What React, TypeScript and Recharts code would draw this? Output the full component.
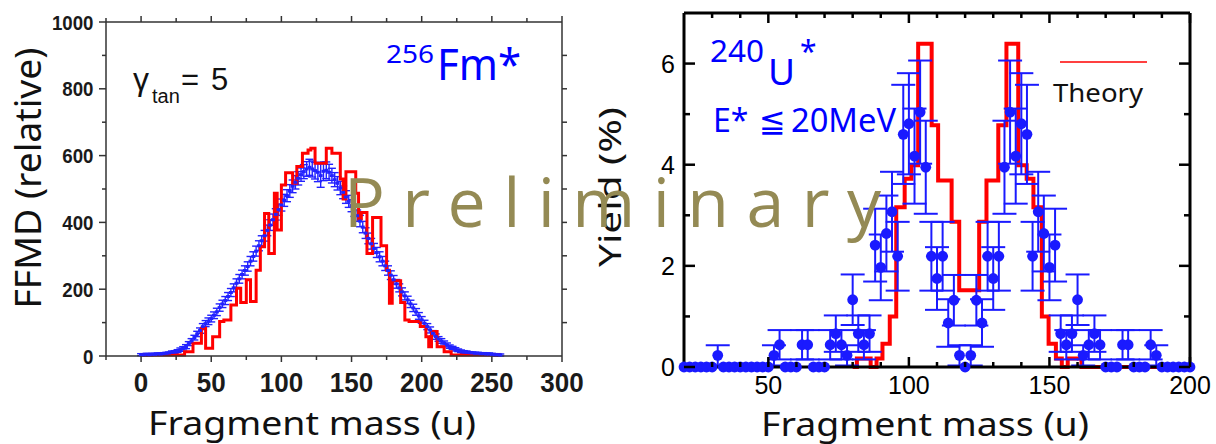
import React from 'react';
import { ComposedChart, Line, Scatter, XAxis, YAxis, ErrorBar } from 'recharts';

// ---------------- Left panel: 256Fm* (FFMD) ----------------
const fmMass = [
  0, 2, 4, 6, 8, 10, 12, 14, 16, 18,
  20, 22, 24, 26, 28, 30, 32, 34, 36, 38,
  40, 42, 44, 46, 48, 50, 52, 54, 56, 58,
  60, 62, 64, 66, 68, 70, 72, 74, 76, 78,
  80, 82, 84, 86, 88, 90, 92, 94, 96, 98,
  100, 102, 104, 106, 108, 110, 112, 114, 116, 118,
  120, 122, 124, 126, 128, 130, 132, 134, 136, 138,
  140, 142, 144, 146, 148, 150, 152, 154, 156, 158,
  160, 162, 164, 166, 168, 170, 172, 174, 176, 178,
  180, 182, 184, 186, 188, 190, 192, 194, 196, 198,
  200, 202, 204, 206, 208, 210, 212, 214, 216, 218,
  220, 222, 224, 226, 228, 230, 232, 234, 236, 238,
  240, 242, 244, 246, 248, 250, 252, 254, 256,
];
const fmYield = [
  4, 4, 5, 4, 5, 5, 6, 6, 7, 8,
  9, 11, 12, 15, 19, 23, 28, 37, 45, 55,
  66, 76, 88, 97, 104, 112, 122, 132, 145, 156,
  166, 178, 190, 204, 218, 231, 244, 256, 268, 284,
  298, 314, 330, 345, 360, 376, 392, 408, 424, 438,
  452, 466, 480, 494, 508, 520, 532, 543, 552, 560,
  565, 560, 555, 550, 540, 553, 556, 550, 540, 528,
  517, 503, 490, 476, 463, 450, 436, 420, 404, 386,
  368, 352, 336, 322, 310, 297, 284, 270, 256, 242,
  228, 216, 204, 192, 180, 168, 156, 144, 132, 120,
  108, 98, 88, 78, 68, 58, 51, 45, 39, 33,
  28, 24, 20, 17, 14, 12, 11, 10, 9, 8,
  8, 7, 7, 6, 6, 5, 4, 4, 3,
];
const fmError = [
  3, 3, 3, 3, 3, 3, 3, 3, 3, 3,
  3, 4, 4, 4, 5, 5, 6, 6, 7, 7,
  8, 8, 9, 9, 10, 10, 10, 11, 11, 11,
  12, 12, 12, 12, 13, 13, 13, 14, 14, 14,
  14, 15, 15, 15, 16, 16, 16, 17, 17, 17,
  18, 18, 18, 19, 19, 20, 20, 20, 21, 22,
  24, 24, 25, 28, 35, 28, 25, 24, 22, 21,
  20, 20, 19, 19, 18, 18, 18, 17, 17, 17,
  16, 16, 16, 15, 15, 15, 14, 14, 14, 13,
  13, 13, 12, 12, 12, 11, 11, 11, 10, 10,
  10, 9, 9, 9, 8, 8, 7, 7, 6, 6,
  5, 5, 5, 4, 4, 4, 4, 3, 3, 3,
  3, 3, 3, 3, 3, 3, 3, 3, 3,
];
const fmTheoryEdges = [
  0, 31, 37, 43, 46, 51, 56, 59, 64, 68,
  71, 75, 78, 82, 85, 88, 91, 95, 97, 100,
  103, 108, 111, 115, 119, 121, 124, 132, 136, 142,
  144, 146, 153, 155, 157, 161, 165, 171, 175, 177,
  179, 185, 188, 191, 199, 203, 205, 207, 211, 216,
  221, 256,
];
const fmTheoryYield = [
  3, 13, 38, 83, 23, 58, 103, 108, 153, 203,
  160, 228, 163, 257, 327, 427, 307, 487, 377, 512,
  549, 517, 567, 607, 617, 622, 577, 622, 607, 530,
  470, 552, 487, 410, 430, 307, 415, 330, 257, 158,
  225, 160, 108, 103, 88, 58, 28, 73, 28, 13,
  3, 3,
];
const fmXMajorTicks = [0, 50, 100, 150, 200, 250, 300];
const fmXMinorTicks = [-25, 25, 75, 125, 175, 225, 275];
const fmYMajorTicks = [0, 200, 400, 600, 800, 1000];
const fmYMinorTicks = [100, 300, 500, 700, 900];
const fmYRightTicks = [100, 200, 300, 400, 500, 600, 700, 800, 900];

// ---------------- Right panel: 240U* ----------------
const uMass = [
  20, 22, 24, 26, 28, 30, 32, 34, 36, 38,
  40, 42, 44, 46, 48, 50, 52, 54, 56, 58,
  60, 62, 64, 66, 68, 70, 72, 74, 76, 78,
  80, 82, 84, 86, 88, 90, 92, 94, 96, 98,
  100, 102, 104, 106, 108, 110, 112, 114, 116, 118,
  120, 122, 124, 126, 128, 130, 132, 134, 136, 138,
  140, 142, 144, 146, 148, 150, 152, 154, 156, 158,
  160, 162, 164, 166, 168, 170, 172, 174, 176, 178,
  180, 182, 184, 186, 188, 190, 192, 194, 196, 198,
  200,
];
const uYield = [
  0, 0, 0, 0, 0, 0, 0.23, 0, 0, 0,
  0, 0, 0, 0, 0, 0, 0.23, 0.44, 0, 0,
  0, 0.44, 0.44, 0, 0, 0, 0.44, 0.66, 0.44, 0.23,
  1.33, 0.66, 0.44, 0.66, 2.41, 1.97, 2.64, 3.07, 2.19, 4.6,
  4.81, 4.17, 5.04, 3.95, 2.19, 1.75, 2.19, 0.87, 1.32, 0.23,
  0, 0.23, 1.32, 0.87, 2.19, 1.75, 2.19, 3.95, 5.04, 4.17,
  4.81, 4.6, 2.19, 3.07, 2.64, 1.97, 2.41, 0.66, 0.44, 0.66,
  1.33, 0.23, 0.44, 0.66, 0.44, 0, 0, 0, 0.44, 0.44,
  0, 0, 0, 0.44, 0.23, 0, 0, 0, 0, 0,
  0,
];
const uError = [
  0, 0, 0, 0, 0, 0, 0.2, 0, 0, 0,
  0, 0, 0, 0, 0, 0, 0.2, 0.29, 0, 0,
  0, 0.29, 0.29, 0, 0, 0, 0.29, 0.36, 0.29, 0.2,
  0.5, 0.36, 0.29, 0.36, 0.72, 0.65, 0.75, 0.79, 0.68, 0.98,
  1.0, 0.94, 1.02, 0.92, 0.68, 0.62, 0.68, 0.47, 0.5, 0.2,
  0, 0.2, 0.5, 0.47, 0.68, 0.62, 0.68, 0.92, 1.02, 0.94,
  1.0, 0.98, 0.68, 0.79, 0.75, 0.65, 0.72, 0.36, 0.29, 0.36,
  0.5, 0.2, 0.29, 0.36, 0.29, 0, 0, 0, 0.29, 0.29,
  0, 0, 0, 0.29, 0.2, 0, 0, 0, 0, 0,
  0,
];
const uTheoryEdges = [
  80, 81.5, 86.4, 88.5, 90.6, 93.2, 95.5, 98.5, 100.9, 103.3,
  108.1, 110.4, 115.2, 117.9, 125, 127.6, 131.8, 134.7, 138.9, 141.9,
  144.3, 147.3, 149.7, 152.3, 154.4, 156.5, 161.4, 200,
];
const uTheoryYield = [
  0, 0.17, 0, 0.17, 0.46, 1.0, 3.16, 3.72, 3.99, 6.39,
  4.78, 3.69, 2.87, 1.52, 2.87, 3.69, 4.78, 6.39, 3.99, 3.72,
  3.16, 1.0, 0.46, 0.17, 0, 0.17, 0, 0,
];
const uXMajorTicks = [50, 100, 150, 200];
const uXMinorTicks = [30, 40, 60, 70, 80, 90, 110, 120, 130, 140, 160, 170, 180, 190];
const uYMajorTicks = [0, 2, 4, 6];
const uYMinorTicks = [1, 3, 5];

// ---------------- tables built from the arrays ----------------
const fmPoints = fmMass.map((x, i) => ({ x, y: fmYield[i], err: fmError[i] }));
const fmTheory = fmTheoryEdges.map((x, i) => ({ x, y: fmTheoryYield[i] }));
const uPoints = uMass.map((x, i) => ({ x, y: uYield[i], err: uError[i] }));
const uTheory = uTheoryEdges.map((x, i) => ({ x, y: uTheoryYield[i] }));

const num = (a: number, b: number) => a - b;
const fmXAll = [...fmXMajorTicks, ...fmXMinorTicks].sort(num);
const fmYAll = [...fmYMajorTicks, ...fmYMinorTicks].sort(num);
const uXAll = [...uXMajorTicks, ...uXMinorTicks].sort(num);
const uYAll = [...uYMajorTicks, ...uYMinorTicks].sort(num);

const SANS = "'Noto Sans', 'Open Sans', 'DejaVu Sans', sans-serif";
const ARIAL = "'Liberation Sans', Arial, sans-serif";
const BLUE_L = '#2222ff';
const BLUE_R = '#1a1aff';
const RED = '#ff0000';

type Side = 'bottom' | 'top' | 'left' | 'right';
interface TickCfg {
  side: Side;
  majors: number[];
  majorLen: number;
  minorLen: number;
  inward: boolean;
  stroke: string;
  strokeWidth: number;
  label?: (x: number, y: number, v: number) => React.ReactNode;
}

// Custom tick: draws the tick mark (major/minor length) and the optional label.
function makeTick(cfg: TickCfg) {
  return function TickMark(props: any) {
    const { x, y, payload } = props;
    const v = payload.value as number;
    const isMajor = cfg.majors.includes(v);
    const len = isMajor ? cfg.majorLen : cfg.minorLen;
    let x2 = x, y2 = y;
    const outSign = cfg.inward ? -1 : 1;
    if (cfg.side === 'bottom') y2 = y + outSign * len;
    if (cfg.side === 'top') y2 = y - outSign * len;
    if (cfg.side === 'left') x2 = x - outSign * len;
    if (cfg.side === 'right') x2 = x + outSign * len;
    return (
      <g>
        <line x1={x} y1={y} x2={x2} y2={y2} stroke={cfg.stroke} strokeWidth={cfg.strokeWidth} />
        {isMajor && cfg.label ? cfg.label(x, y, v) : null}
      </g>
    );
  };
}

const fmLabelX = (x: number, y: number, v: number) => (
  <text transform={`translate(${x},${y + 36}) scale(0.93,1)`} textAnchor="middle" fontSize={28}
    fontWeight="bold" fontFamily={ARIAL} fill="#1a1a1a">{v}</text>
);
const fmLabelY = (x: number, y: number, v: number) => (
  <text transform={`translate(${x - 12.5},${y + 7.5}) scale(0.89,1)`} textAnchor="end" fontSize={21}
    fontWeight="bold" fontFamily={ARIAL} fill="#1a1a1a">{v}</text>
);
const uLabelX = (x: number, y: number, v: number) => (
  <text x={x} y={y + 26.5} textAnchor="middle" fontSize={25} fontFamily={ARIAL} fill="#000">{v}</text>
);
const uLabelY = (x: number, y: number, v: number) => (
  <text x={x - 9} y={y + 9} textAnchor="end" fontSize={25} fontFamily={ARIAL} fill="#000">{v}</text>
);

const FM_STROKE = '#333';
const fmBottomTick = makeTick({ side: 'bottom', majors: fmXMajorTicks, majorLen: 6, minorLen: 4, inward: false, stroke: FM_STROKE, strokeWidth: 1.5, label: fmLabelX });
const fmTopTick = makeTick({ side: 'top', majors: fmXMajorTicks, majorLen: 6, minorLen: 4, inward: false, stroke: FM_STROKE, strokeWidth: 1.5 });
const fmLeftTick = makeTick({ side: 'left', majors: fmYMajorTicks, majorLen: 7, minorLen: 4, inward: false, stroke: FM_STROKE, strokeWidth: 1.5, label: fmLabelY });
const fmRightTick = makeTick({ side: 'right', majors: fmYRightTicks, majorLen: 5, minorLen: 5, inward: false, stroke: FM_STROKE, strokeWidth: 1.5 });

const uBottomTick = makeTick({ side: 'bottom', majors: uXMajorTicks, majorLen: 10, minorLen: 5, inward: true, stroke: '#000', strokeWidth: 2.5, label: uLabelX });
const uTopTick = makeTick({ side: 'top', majors: uXMajorTicks, majorLen: 10, minorLen: 5, inward: true, stroke: '#000', strokeWidth: 2.5 });
const uLeftTick = makeTick({ side: 'left', majors: uYMajorTicks, majorLen: 11, minorLen: 6, inward: true, stroke: '#000', strokeWidth: 2.5, label: uLabelY });
const uRightTick = makeTick({ side: 'right', majors: uYMajorTicks, majorLen: 11, minorLen: 6, inward: true, stroke: '#000', strokeWidth: 2.5 });

const fmFrame = { stroke: FM_STROKE, strokeWidth: 1.5 };
const uFrame = { stroke: '#000', strokeWidth: 3 };

function LeftChart() {
  const xd: [number, number] = [-25, 300];
  const yd: [number, number] = [0, 1000];
  return (
    <ComposedChart width={600} height={444} margin={{ top: 21, right: 37, bottom: 0, left: 0 }}>
      <XAxis xAxisId="xb" orientation="bottom" type="number" dataKey="x" domain={xd} height={88}
        ticks={fmXAll} interval={0} tickSize={0} tickMargin={0} tickLine={false} tick={fmBottomTick} axisLine={fmFrame} />
      <XAxis xAxisId="xt" orientation="top" type="number" dataKey="x" domain={xd} allowDataOverflow height={1}
        ticks={fmXAll} interval={0} tickSize={0} tickMargin={0} tickLine={false} tick={fmTopTick} axisLine={fmFrame} />
      <YAxis yAxisId="yl" orientation="left" type="number" dataKey="y" domain={yd} width={106}
        ticks={fmYAll} interval={0} tickSize={0} tickMargin={0} tickLine={false} tick={fmLeftTick} axisLine={fmFrame} />
      <YAxis yAxisId="yr" orientation="right" type="number" dataKey="y" domain={yd} allowDataOverflow width={1}
        ticks={fmYRightTicks} interval={0} tickSize={0} tickMargin={0} tickLine={false} tick={fmRightTick} axisLine={fmFrame} />

      <Scatter xAxisId="xb" yAxisId="yl" data={fmPoints} dataKey="y" isAnimationActive={false}
        shape={(p: any) => <rect x={p.cx - 2} y={p.cy - 1.5} width={4} height={3} fill={BLUE_L} />}>
        <ErrorBar dataKey="err" direction="y" width={4} strokeWidth={1.4} stroke={BLUE_L} />
      </Scatter>
      <Line xAxisId="xb" yAxisId="yl" data={fmTheory} dataKey="y" type="stepAfter" stroke={RED}
        strokeWidth={3} dot={false} activeDot={false} isAnimationActive={false} />
    </ComposedChart>
  );
}

function RightChart() {
  const xd: [number, number] = [20, 200];
  const yd: [number, number] = [0, 7];
  return (
    <ComposedChart width={616} height={444} margin={{ top: 12, right: 25, bottom: 0, left: 0 }}>
      <XAxis xAxisId="xb" orientation="bottom" type="number" dataKey="x" domain={xd} height={77}
        ticks={uXAll} interval={0} tickSize={0} tickMargin={0} tickLine={false} tick={uBottomTick} axisLine={uFrame} />
      <XAxis xAxisId="xt" orientation="top" type="number" dataKey="x" domain={xd} allowDataOverflow height={1}
        ticks={uXAll} interval={0} tickSize={0} tickMargin={0} tickLine={false} tick={uTopTick} axisLine={uFrame} />
      <YAxis yAxisId="yl" orientation="left" type="number" dataKey="y" domain={yd} width={84}
        ticks={uYAll} interval={0} tickSize={0} tickMargin={0} tickLine={false} tick={uLeftTick} axisLine={uFrame} />
      <YAxis yAxisId="yr" orientation="right" type="number" dataKey="y" domain={yd} allowDataOverflow width={1}
        ticks={uYAll} interval={0} tickSize={0} tickMargin={0} tickLine={false} tick={uRightTick} axisLine={uFrame} />

      <Line xAxisId="xb" yAxisId="yl" data={uTheory} dataKey="y" type="stepAfter" stroke={RED}
        strokeWidth={4} dot={false} activeDot={false} isAnimationActive={false} />
      <Scatter xAxisId="xb" yAxisId="yl" data={uPoints} dataKey="y" isAnimationActive={false}
        shape={(p: any) => <circle cx={p.cx} cy={p.cy} r={5.4} fill={BLUE_R} />}>
        <ErrorBar dataKey="err" direction="y" width={12} strokeWidth={2} stroke={BLUE_R} />
      </Scatter>
    </ComposedChart>
  );
}

export default function App() {
  return (
    <div style={{ position: 'absolute', left: 0, top: 0, width: 1216, height: 444, background: '#fff', overflow: 'hidden' }}>
      <div style={{ position: 'absolute', left: 0, top: 0 }}>
        <LeftChart />
      </div>
      <div style={{ position: 'absolute', left: 600, top: 0 }}>
        <RightChart />
      </div>
      <svg width={1216} height={444} style={{ position: 'absolute', left: 0, top: 0, pointerEvents: 'none' }}>
        {/* axis titles */}
        <text transform="translate(41,178) rotate(-90)" textAnchor="middle" fontSize={36} fontFamily={SANS}
          textLength={261} lengthAdjust="spacingAndGlyphs" fill="#111">FFMD (relative)</text>
        <text x={148} y={435} fontSize={32} fontFamily={SANS} textLength={328} lengthAdjust="spacingAndGlyphs" fill="#111">Fragment mass (u)</text>
        <text transform="translate(621,187) rotate(-90)" textAnchor="middle" fontSize={30} fontFamily={SANS}
          textLength={160} lengthAdjust="spacingAndGlyphs" fill="#111">Yield (%)</text>
        <text x={761} y={436} fontSize={32} fontFamily={SANS} textLength={328} lengthAdjust="spacingAndGlyphs" fill="#111">Fragment mass (u)</text>

        {/* left annotations */}
        <text x={133} y={90} fontSize={32} fontFamily={ARIAL} fill="#111">γ</text>
        <text x={152} y={103} fontSize={20} fontFamily={ARIAL} fill="#111">tan</text>
        <text x={181} y={90} fontSize={31} fontFamily={ARIAL} fill="#111">=</text>
        <text x={211} y={90} fontSize={31} fontFamily={ARIAL} fill="#111">5</text>
        <text x={386} y={63} fontSize={25} fontFamily={SANS} fill="#0000ff" textLength={48} lengthAdjust="spacingAndGlyphs">256</text>
        <text x={437} y={80} fontSize={43} fontFamily={SANS} fill="#0000ff" textLength={84} lengthAdjust="spacingAndGlyphs">Fm*</text>

        {/* right annotations */}
        <text x={710} y={62} fontSize={30} fontFamily={SANS} fill="#0000ff" textLength={54} lengthAdjust="spacingAndGlyphs">240</text>
        <text x={768} y={85} fontSize={37} fontFamily={SANS} fill="#0000ff">U</text>
        <text x={800} y={62} fontSize={30} fontFamily={SANS} fill="#0000ff">*</text>
        <text x={713} y={132} fontSize={32} fontFamily={SANS} fill="#0000ff">E*</text>
        <text x={759} y={132} fontSize={32} fontFamily={SANS} fill="#0000ff">≦</text>
        <text x={791} y={132} fontSize={32} fontFamily={SANS} fill="#0000ff" textLength={105} lengthAdjust="spacingAndGlyphs">20MeV</text>

        {/* legend */}
        <line x1={1060} y1={62} x2={1147} y2={62} stroke={RED} strokeWidth={1.5} />
        <text x={1053} y={101.5} fontSize={26} fontFamily={SANS} fill="#111" textLength={90} lengthAdjust="spacingAndGlyphs">Theory</text>

        {/* watermark */}
        <text x={344} y={227} fontSize={68} fontFamily="'Open Sans', 'Noto Sans', sans-serif" fill="#948a54"
          textLength={537} lengthAdjust="spacing">P r e l i m i n a r y</text>
      </svg>
    </div>
  );
}
